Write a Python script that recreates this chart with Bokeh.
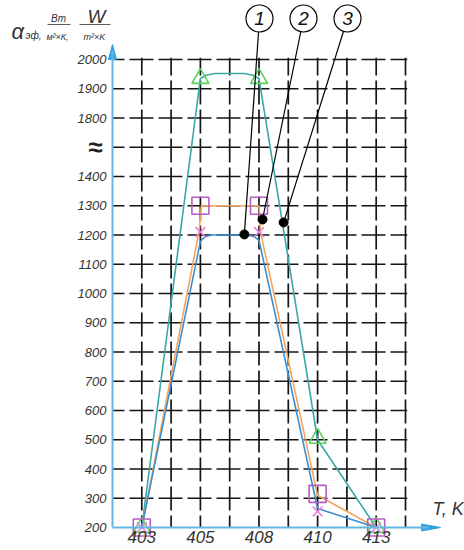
from bokeh.plotting import figure
from bokeh.models import Range1d, FixedTicker
from bokeh.core.properties import value
from bokeh.embed import file_html
from bokeh.resources import INLINE

# ---------------- data ----------------
temps = ["403", "405", "408", "410", "413"]          # T, K tick labels
temp_pos = [1, 3, 5, 7, 9]                           # grid column of each temperature

y_tick_labels = ["200", "300", "400", "500", "600", "700", "800", "900", "1000",
                 "1100", "1200", "1300", "1400", "≈", "1800", "1900", "2000"]

# curve 1 (blue), curve 2 (orange), curve 3 (teal) : positions along T axis, values
curve1_x = [1, 3.0, 3.15, 3.4, 4.6, 4.85, 5.0, 7, 9]
curve1_y = [200, 1178, 1194, 1200, 1200, 1194, 1182, 265, 200]
curve2_x = [1, 2.96, 3.03, 5.0, 5.05, 7, 9]
curve2_y = [200, 1215, 1300, 1300, 1210, 310, 200]
curve3_x = [1, 3.0, 3.2, 3.5, 4.5, 4.8, 5.0, 7, 9]
curve3_y = [200, 1935, 1946, 1952, 1952, 1946, 1935, 500, 200]

# markers at the measured temperatures
mark1_y = [200, 1210, 1210, 255, 200]   # x markers
mark2_y = [200, 1300, 1300, 315, 200]   # squares
mark3_y = [200, 1935, 1935, 505, 200]   # triangles

# callouts 1, 2, 3
callout_text = ["1", "2", "3"]
callout_dot_x = [4.5, 5.12, 5.84]
callout_dot_y = [1202, 1253, 1243]

# ---------------- layout helpers ----------------
W, H = 464, 550
X0, DX = 112, 29.3      # canvas x of T-axis origin, px per column
Y0, DY = 527, 29.25     # canvas y of 200 line, px per row

def cx(px):
    return (px - X0) / DX

def ry(py):
    return (Y0 - py) / DY

def to_row(v):
    # broken axis: 1500..1700 collapsed into one "≈" step
    return (v - 200) / 100.0 if v <= 1400 else (v - 200) / 100.0 - 2

rows = lambda vals: [to_row(v) for v in vals]

FONT = "Liberation Sans"
AXIS_BLUE = "#62b8e2"
ARROW_BLUE = "#2ea2de"
TXT = "#333333"

p = figure(width=W, height=H, x_range=Range1d(cx(0), cx(W)), y_range=Range1d(ry(H), ry(0)),
           output_backend="svg", toolbar_location=None, min_border=0)
p.outline_line_color = None
p.xgrid.visible = False
p.ygrid.visible = False
p.background_fill_color = "white"

# ---------------- grid ----------------
n_rows = len(y_tick_labels) - 1
n_cols = 10
hy = list(range(1, n_rows + 1))
p.segment(x0=[0] * n_rows, y0=hy, x1=[n_cols + 0.06] * n_rows, y1=hy, line_color="#151515",
          line_width=1.7, line_dash="24 5", line_dash_offset=12)
vx = list(range(1, n_cols + 1))
p.segment(x0=vx, y0=[0] * n_cols, x1=vx, y1=[n_rows + 0.06] * n_cols, line_color="#151515",
          line_width=1.7, line_dash="24 5", line_dash_offset=12)

# ---------------- axes ----------------
xa = p.xaxis[0]
xa.fixed_location = 0
xa.bounds = (0, 10.8)
xa.ticker = FixedTicker(ticks=temp_pos)
xa.major_label_overrides = {k: t for k, t in zip(temp_pos, temps)}
xa.axis_line_color = AXIS_BLUE
xa.axis_line_width = 2
xa.major_tick_line_color = None
xa.minor_tick_line_color = None
xa.major_tick_out = 0
xa.major_tick_in = 0
xa.major_label_standoff = 3
xa.major_label_text_font = FONT
xa.major_label_text_font_size = "17px"
xa.major_label_text_font_style = "italic"
xa.major_label_text_color = TXT

ya = p.yaxis[0]
ya.fixed_location = 0
ya.bounds = (0, 16.3)
ya.ticker = FixedTicker(ticks=list(range(len(y_tick_labels))))
ya.major_label_overrides = {i: ("" if t == "≈" else t) for i, t in enumerate(y_tick_labels)}
ya.axis_line_color = AXIS_BLUE
ya.axis_line_width = 2
ya.major_tick_line_color = None
ya.minor_tick_line_color = None
ya.major_tick_out = 0
ya.major_tick_in = 0
ya.major_label_standoff = 6
ya.major_label_text_font = FONT
ya.major_label_text_font_size = "13px"
ya.major_label_text_font_style = "italic"
ya.major_label_text_color = TXT

brk = y_tick_labels.index("≈")
p.text(x=[cx(95)], y=[brk], text=["≈"], text_font=value(FONT), text_font_size="26px",
       text_font_style="bold", text_align="center", text_baseline="middle", text_color="#222222")

# arrow heads
p.patch(x=[0, cx(X0 - 4), cx(X0 + 4)], y=[n_rows + 15 / DY, n_rows, n_rows],
        fill_color=ARROW_BLUE, line_color=ARROW_BLUE)
tipx = cx(440)
p.patch(x=[tipx, tipx - 19 / DX, tipx - 19 / DX], y=[0, 3.5 / DY, -3.5 / DY],
        fill_color=ARROW_BLUE, line_color=ARROW_BLUE)

# ---------------- curves ----------------
p.line(curve3_x, rows(curve3_y), line_color="#3aa8a4", line_width=1.6)
p.line(curve2_x, rows(curve2_y), line_color="#f2a45c", line_width=1.6)
p.line(curve1_x, rows(curve1_y), line_color="#3b8fd0", line_width=1.6)

p.scatter(temp_pos, rows(mark3_y), marker="triangle", size=17, fill_color=None,
          line_color="#5ccf5c", line_width=1.6)
p.scatter(temp_pos, rows(mark2_y), marker="square", size=17, fill_color=None,
          line_color="#b65cc4", line_width=1.6)
p.scatter(temp_pos, rows(mark1_y), marker="x", size=14, line_color="#e67ee0", line_width=1.5)

# ---------------- callouts ----------------
circ_x = [cx(259), cx(303), cx(347)]
circ_y = [ry(18)] * 3
dot_r = rows(callout_dot_y)
p.segment(x0=circ_x, y0=circ_y, x1=callout_dot_x, y1=dot_r, line_color="black", line_width=1.2)
p.scatter(callout_dot_x, dot_r, marker="circle", size=9, fill_color="black", line_color="black")
p.scatter(circ_x, circ_y, marker="circle", size=27, fill_color="white", line_color="black",
          line_width=1.2)
p.text(x=circ_x, y=circ_y, text=callout_text, text_font=value(FONT), text_font_size="19px",
       text_font_style="italic", text_align="center", text_baseline="middle", text_color="#111111")

# ---------------- axis titles ----------------
def label(px, py, txt, size, align="left", baseline="alphabetic"):
    p.text(x=[cx(px)], y=[ry(py)], text=[txt], text_font=value(FONT), text_font_size=size,
           text_font_style="italic", text_align=align, text_baseline=baseline,
           text_color=TXT)

label(11, 31, "α", "22px")
label(25, 35, "эф,", "10px")
label(58, 18, "Вт", "10px", align="center")
label(57, 36, "м²×К,", "9px", align="center")
label(96, 16, "W", "19px", align="center")
label(94, 36, "m²×K", "9px", align="center")
p.segment(x0=[cx(47), cx(79)], y0=[ry(24)] * 2, x1=[cx(70), cx(110)], y1=[ry(24)] * 2,
          line_color=TXT, line_width=0.8)
label(432, 508, "T, K", "18px", baseline="middle")

open("out.html", "w").write(file_html(p, INLINE))
